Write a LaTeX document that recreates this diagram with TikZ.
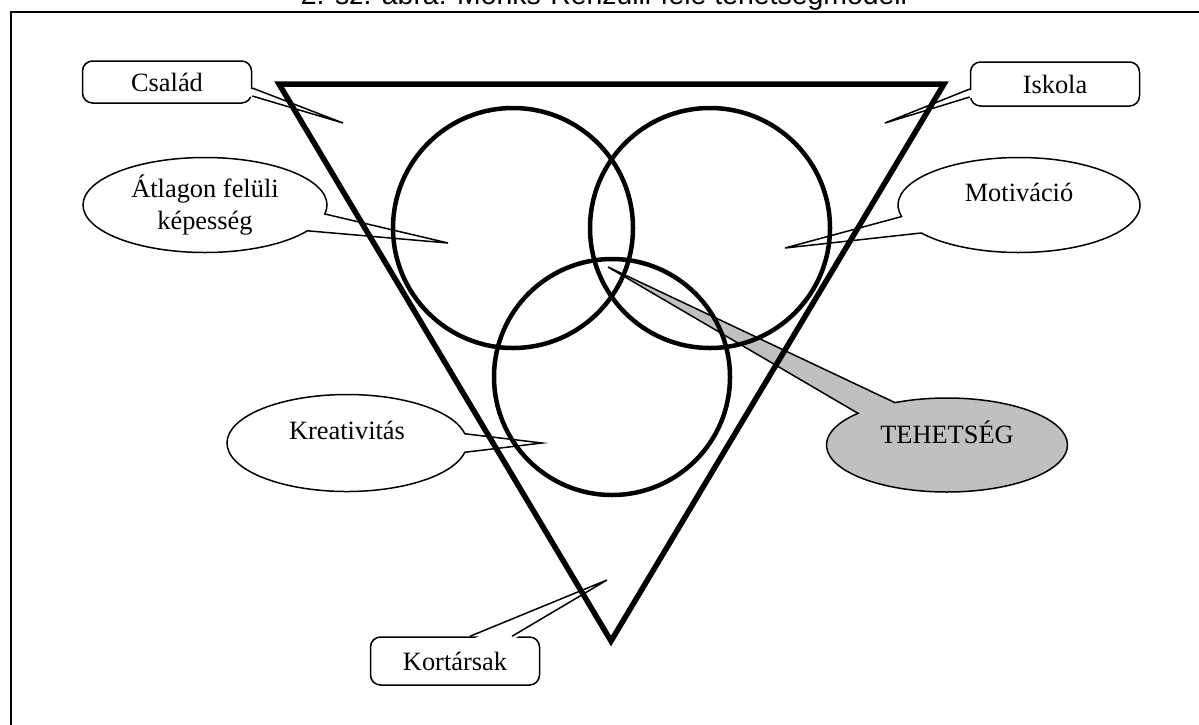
\documentclass[tikz,border=0pt]{standalone}
\usepackage{fontspec}
\setmainfont{Liberation Serif}
\newfontfamily\titlefont{Liberation Sans}
\usepackage{xcolor}
\usetikzlibrary{shapes.geometric,shapes.callouts,calc}
\definecolor{talentgray}{HTML}{C0C0C0}

\begin{document}
\begin{tikzpicture}[
		x=0.5pt, y=-0.5pt,
		font=\fontsize{13.2}{15.6}\selectfont,
		labelbox/.style={
			rectangle,
			rounded corners=5pt,
			draw=black,
			fill=white,
			line width=0.75pt,
			minimum width=84.5pt,
			minimum height=21pt,
			inner sep=0pt
		},
		bubble/.style={
			ellipse callout,
			draw=black,
			fill=white,
			line width=0.75pt,
			callout pointer arc=22,
			inner sep=0pt,
			align=center
		},
		lifted/.style={text depth=13pt},
		wedgeline/.style={draw=black, line width=0.75pt, line join=miter},
		ring/.style={
			circle,
			draw=black,
			line width=2.25pt,
			inner sep=0pt
		},
		pageframe/.style={draw=black, line width=1pt}
		]
		
		\path[use as bounding box, clip] (0,0) rectangle (1199,724);
		
		\node[font={\titlefont\fontsize{14.2}{17}\selectfont}, anchor=base] (title) at (604,4)
		{2. sz. ábra: Mönks-Renzulli-féle tehetségmodell};
		\draw[pageframe] (11,740) -- (11,12) -- (1215,12);
		
		\coordinate (tipcsalad) at (343,123);
		\coordinate (tipiskola) at (885,123);
		\coordinate (tipkortars) at (607,580);
		\coordinate (tipatlag) at (448,243);
		\coordinate (tipmotiv) at (785,248);
		\coordinate (tipkreat) at (542,443);
		\coordinate (tiptehets) at (608,267);
		
		\node[labelbox] (csalad) at (167,82) {Család};
		\node[labelbox, minimum height=22pt] (iskola) at (1055,84) {Iskola};
		\node[labelbox, minimum height=24pt] (kortars) at (455,661) {Kortársak};
		
		\fill[white] ($(csalad.east)+(-4,6)$) -- (tipcsalad) -- ($(csalad.east)+(-4,14)$) -- cycle;
		\draw[wedgeline] ($(csalad.east)+(0,6)$) -- (tipcsalad) -- ($(csalad.east)+(0,14)$);
		\fill[white] ($(iskola.west)+(4,5)$) -- (tipiskola) -- ($(iskola.west)+(4,13)$) -- cycle;
		\draw[wedgeline] ($(iskola.west)+(0,5)$) -- (tipiskola) -- ($(iskola.west)+(0,13)$);
		\fill[white] ($(kortars.north)+(15,4)$) -- (tipkortars) -- ($(kortars.north)+(57,4)$) -- cycle;
		\draw[wedgeline] ($(kortars.north)+(15,0)$) -- (tipkortars) -- ($(kortars.north)+(57,0)$);
		
		\node[bubble, minimum width=122pt, minimum height=47.5pt, callout absolute pointer={(tipatlag)}] (atlag)
		at (205,205) {Átlagon felüli\\képesség};
		\node[bubble, lifted, minimum width=121pt, minimum height=47.5pt, callout absolute pointer={(tipmotiv)}] (motiv)
		at (1019,205) {Motiváció};
		\node[bubble, lifted, minimum width=120pt, minimum height=48.5pt, callout absolute pointer={(tipkreat)}] (kreat)
		at (347,443) {Kreativitás};
		\node[bubble, lifted, fill=talentgray, minimum width=120.5pt, minimum height=47pt, callout absolute pointer={(tiptehets)}] (tehets)
		at (947,445) {TEHETSÉG};
		
		\coordinate (tritl) at (279,84);
		\coordinate (tritr) at (944,84);
		\coordinate (tribot) at (611,641);
		\draw[line width=2.75pt, line join=miter] (tritl) -- (tritr) -- (tribot) -- cycle;
		
		\node[ring, minimum size=120pt] (leftring) at (513,228) {};
		\node[ring, minimum size=120pt] (rightring) at (710,228) {};
		\node[ring, minimum size=118pt] (lowring) at (612,377) {};
		
	\end{tikzpicture}
\end{document}
